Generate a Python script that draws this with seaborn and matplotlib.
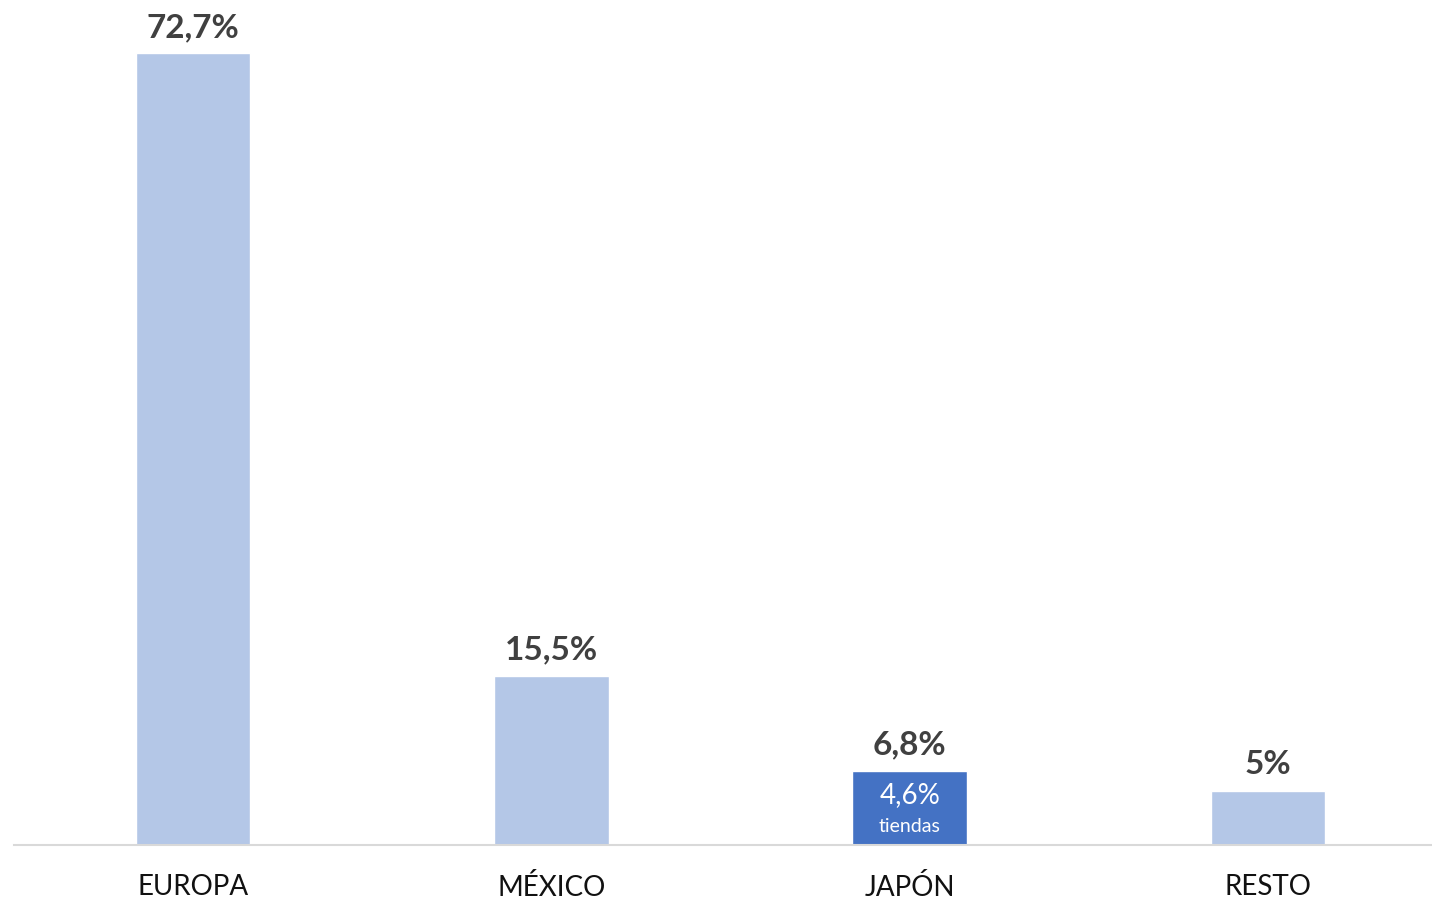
import matplotlib
matplotlib.use('Agg')
import matplotlib.pyplot as plt
import seaborn as sns
import pandas as pd

# data
categories = ['EUROPA', 'MÉXICO', 'JAPÓN', 'RESTO']
values = [72.7, 15.5, 6.8, 5.0]
value_labels = ['72,7%', '15,5%', '6,8%', '5%']
inner_value = '4,6%'
inner_note = 'tiendas'

light_blue = '#B4C7E7'
dark_blue = '#4472C4'
colors = [light_blue, light_blue, dark_blue, light_blue]

sns.set_theme(style='white')
plt.rcParams['font.family'] = ['Lato', 'DejaVu Sans']

df = pd.DataFrame({'region': categories, 'pct': values})

fig = plt.figure(figsize=(14.32, 9.04), dpi=100)
ax = fig.add_axes([14 / 1432, 58 / 904, 1418 / 1432, 846 / 904])

sns.barplot(data=df, x='region', y='pct', hue='region', palette=colors,
            order=categories, hue_order=categories, width=0.32,
            saturation=1, legend=False, ax=ax)

ax.set_xlim(-0.5, 3.458)
ax.set_ylim(0, 77.7)

for i, (v, lab) in enumerate(zip(values, value_labels)):
    ax.annotate(lab, (i, v), xytext=(0, 9), textcoords='offset points',
                ha='center', va='bottom', fontsize=24, fontweight='bold',
                color='#404040')

# text inside the highlighted bar
j = categories.index('JAPÓN')
ax.annotate(inner_value, (j, values[j]), xytext=(0, -7), textcoords='offset points',
            ha='center', va='top', fontsize=20, color='white')
ax.annotate(inner_note, (j, values[j]), xytext=(0, -33), textcoords='offset points',
            ha='center', va='top', fontsize=14, color='white')

ax.set_xlabel('')
ax.set_ylabel('')
ax.set_yticks([])
ax.tick_params(axis='x', length=0, pad=20, labelsize=20, labelcolor='#111111')
for side in ['top', 'right', 'left']:
    ax.spines[side].set_visible(False)
ax.spines['bottom'].set_color('#D9D9D9')
ax.spines['bottom'].set_linewidth(1.5)

fig.savefig('out.png', dpi=100)
